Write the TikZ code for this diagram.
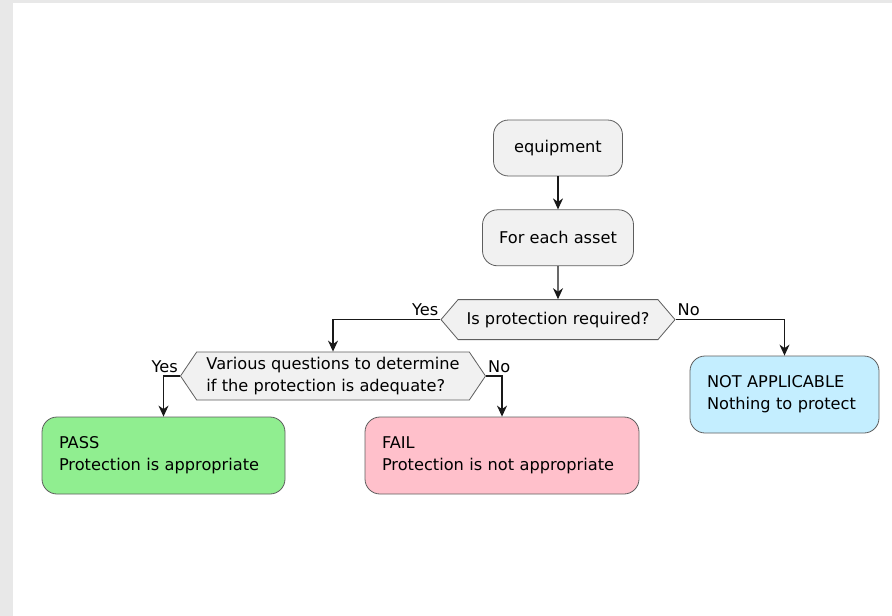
\documentclass[tikz,border=0pt]{standalone}
\usepackage{fontspec}
\setmainfont{DejaVu Sans}
\usepackage{xcolor}
\usetikzlibrary{arrows.meta,positioning,shapes.symbols}

\definecolor{actfill}{HTML}{F1F1F1}
\definecolor{passfill}{HTML}{90EE90}
\definecolor{failfill}{HTML}{FFC0CB}
\definecolor{nafill}{HTML}{C4EEFF}
\definecolor{edgegray}{HTML}{5E5E5E}
\definecolor{pagegray}{HTML}{E8E8E8}

\begin{document}
\begin{tikzpicture}[
  x=1pt, y=-1pt,
  every node/.style={font=\fontsize{16.2pt}{22pt}\selectfont},
  act/.style={draw=edgegray, line width=0.8pt, rounded corners=15pt, fill=actfill, minimum height=56pt},
  cond/.style={draw=edgegray, line width=0.8pt, fill=actfill, signal, signal to=west and east, align=left, inner sep=0pt},
  res/.style={draw=edgegray, line width=0.8pt, rounded corners=15pt, minimum height=77pt, align=left, inner xsep=17pt},
  lbl/.style={inner xsep=1.5pt, inner ysep=3pt},
  arrow/.style={-{Stealth[length=11pt,width=10pt,inset=3.5pt]}, line width=1.3pt, draw=black!90}
]
\fill[pagegray] (0,0) rectangle (892,616);
\fill[white] (13,3) rectangle (892,616);
\useasboundingbox (0,0) rectangle (892,616);

\node[act, minimum width=129pt] (equip) at (558,148) {equipment};
\node[act, minimum width=151pt, below=33pt of equip] (asset) {For each asset};
\node[cond, minimum width=234pt, minimum height=40pt, signal pointer angle=99, below=33pt of asset] (d1) {Is protection required?};
\node[cond, minimum width=305pt, minimum height=48pt, signal pointer angle=112] (d2) at (333,376)
  {Various questions to determine\\if the protection is adequate?};
\node[res, fill=passfill, text width=209pt] (pass) at (163.5,455.5) {PASS\\Protection is appropriate};
\node[res, fill=failfill, text width=240pt] (fail) at (502,455.5) {FAIL\\Protection is not appropriate};
\node[res, fill=nafill, text width=155pt] (na) at (784.5,394.5) {NOT APPLICABLE\\Nothing to protect};

\draw[arrow] (equip) -- (asset);
\draw[arrow] (asset) -- (d1);
\draw[arrow] (d1.west) node[lbl, anchor=south east] {Yes} -| (d2.north);
\draw[arrow] (d1.east) node[lbl, anchor=south west] {No} -| (na.north);
\draw[arrow] (d2.west) node[lbl, anchor=south east] {Yes} -| (pass.north);
\draw[arrow] (d2.east) node[lbl, anchor=south west] {No} -| (fail.north);
\end{tikzpicture}
\end{document}
